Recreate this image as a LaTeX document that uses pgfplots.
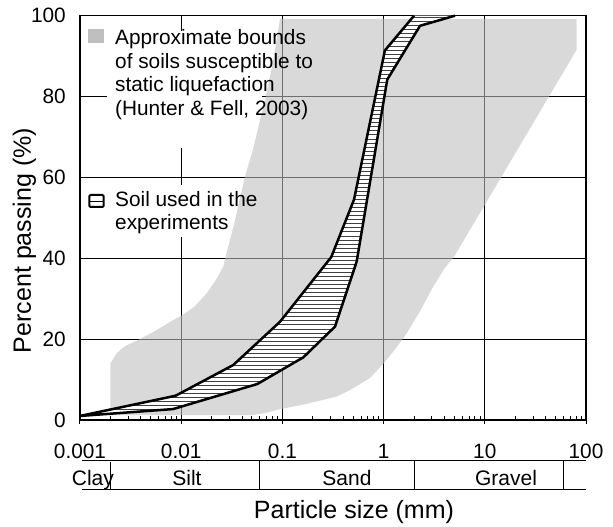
\documentclass[border=0pt]{standalone}
\usepackage{pgfplots}
\pgfplotsset{compat=1.18}
\usepackage{fontspec}
\setmainfont{Liberation Sans}

\definecolor{bandgray}{RGB}{190,190,190}
\definecolor{keygray}{RGB}{191,191,191}

\newcommand{\tickfont}{\fontsize{20.8}{24}\selectfont}
\newcommand{\labfont}{\fontsize{25}{29}\selectfont}

\begin{document}
\begin{tikzpicture}
\begin{axis}[
  name=ax,
  scale only axis,
  width=506pt, height=404.3pt,
  xmode=log,
  xmin=0.001, xmax=100, ymin=0, ymax=100,
  xtick={0.001,0.01,0.1,1,10,100},
  xticklabels={0.001,0.01,0.1,1,10,100},
  ytick={0,20,40,60,80,100},
  grid=major,
  major grid style={black, line width=0.9pt},
  axis line style={line width=1.5pt},
  tick pos=left,
  tick align=center,
  major tick length=8pt,
  minor tick length=4pt,
  every tick/.style={black, line width=1pt},
  minor x tick style={yshift=2pt},
  ytick style={draw=none},
  /pgf/number format/assume math mode=true,
  tick label style={font=\tickfont},
  xticklabel style={anchor=base, inner sep=0pt, yshift=-34pt},
  yticklabel style={anchor=east, inner sep=0pt, xshift=-10pt},
  xlabel={Particle size (mm)},
  ylabel={Percent passing (\%)},
  xlabel style={font=\labfont, at={(axis description cs:0.5415,0)}, anchor=base, yshift=-98pt},
  ylabel style={font=\labfont, at={(axis description cs:-0.110,0.444)}, anchor=center},
  clip=false,
]

% white backing behind the key text
\fill[white] (rel axis cs:0.0534,0.6728) rectangle (rel axis cs:0.3597,0.9622);
\fill[white] (rel axis cs:0.0099,0.4526) rectangle (rel axis cs:0.3360,0.5813);

% bounds of soils susceptible to static liquefaction (Hunter & Fell, 2003)
\addplot[draw=none, fill=bandgray, fill opacity=0.58] coordinates {
  (0.002,1.2) (0.002,14) (0.0023,16.5) (0.0028,18.3) (0.0039,20)
  (0.0055,22) (0.0078,24.3) (0.01,25.8) (0.0135,28) (0.018,31.4)
  (0.0225,35) (0.0261,38) (0.0285,42) (0.033,48) (0.0427,60.2)
  (0.0513,67) (0.0673,79.2) (0.08,88) (0.0946,99.2)
  (81,99.2) (81,91.6) (5.0,40.5)
  (4.0,37.5) (3.09,33) (2.3,27) (1.69,21.4) (1.3,17.5) (1.0,14)
  (0.735,10.4) (0.466,7.4) (0.344,5.8) (0.235,4.8) (0.16,3.8)
  (0.12,3.2) (0.088,2.5) (0.07,1.8) (0.05,1.2)
};

% grading envelope of the soil used in the experiments
\addplot[draw=none, fill=white] coordinates {
  (0.001,1.0) (0.0088,6.0) (0.0327,13.6) (0.0947,24.3) (0.304,40.3)
  (0.51,54.5) (1.03,91.4) (2.0,100)
  (5.08,100) (2.29,97.5) (1.087,84.2) (0.542,39.2) (0.331,23.1)
  (0.161,15.5) (0.0565,8.9) (0.0083,2.7) (0.001,1.0)
};
% horizontal hatching inside the envelope
\begin{scope}
  \clip (0.001,1.0) -- (0.0088,6.0) -- (0.0327,13.6) -- (0.0947,24.3) -- (0.304,40.3)
    -- (0.51,54.5) -- (1.03,91.4) -- (2.0,100)
    -- (5.08,100) -- (2.29,97.5) -- (1.087,84.2) -- (0.542,39.2) -- (0.331,23.1)
    -- (0.161,15.5) -- (0.0565,8.9) -- (0.0083,2.7) -- cycle;
  \pgfplotsinvokeforeach{0.5,1.5,...,99.5}{
    \draw[black!75, line width=1pt] (0.001,#1) -- (100,#1);
  }
\end{scope}
\addplot[black, line width=2.5pt, line join=round] coordinates {
  (0.001,1.0) (0.0088,6.0) (0.0327,13.6) (0.0947,24.3) (0.304,40.3)
  (0.51,54.5) (1.03,91.4) (2.0,100)
};
\addplot[black, line width=2.5pt, line join=round] coordinates {
  (0.001,1.0) (0.0083,2.7) (0.0565,8.9) (0.161,15.5) (0.331,23.1)
  (0.542,39.2) (1.087,84.2) (2.29,97.5) (5.08,100)
};

% soil classification strip
\draw[line width=0.9pt] ([yshift=-40.7pt]axis cs:0.001047,0) -- ([yshift=-40.7pt]axis cs:100,0);
\draw[line width=0.9pt] ([yshift=-69pt]axis cs:0.001047,0) -- ([yshift=-69pt]axis cs:100,0);
\draw[line width=0.9pt] ([yshift=-41.7pt]axis cs:0.002,0) -- ([yshift=-70pt]axis cs:0.002,0);
\draw[line width=0.9pt] ([yshift=-40.7pt]axis cs:0.06,0) -- ([yshift=-69pt]axis cs:0.06,0);
\draw[line width=0.9pt] ([yshift=-40.7pt]axis cs:2,0) -- ([yshift=-69pt]axis cs:2,0);
\draw[line width=0.9pt] ([yshift=-40.7pt]axis cs:60,0) -- ([yshift=-69pt]axis cs:60,0);
\node[font=\fontsize{21}{24}\selectfont, anchor=base, inner sep=0pt] at ([yshift=-65pt]axis cs:0.00134,0) {Clay};
\node[font=\fontsize{21}{24}\selectfont, anchor=base, inner sep=0pt] at ([yshift=-65pt]axis cs:0.0114,0) {Silt};
\node[font=\fontsize{21}{24}\selectfont, anchor=base, inner sep=0pt] at ([yshift=-65pt]axis cs:0.435,0) {Sand};
\node[font=\fontsize{21}{24}\selectfont, anchor=base, inner sep=0pt] at ([yshift=-65pt]axis cs:16.2,0) {Gravel};
\end{axis}

% key
\fill[keygray] ([shift={(8.3pt,377.3pt)}]ax.south west) rectangle ([shift={(24pt,391pt)}]ax.south west);
\begin{scope}[every node/.style={font=\tickfont, anchor=base west, inner sep=0pt}]
  \node at ([shift={(35pt,375pt)}]ax.south west) {Approximate bounds};
  \node at ([shift={(35pt,351.5pt)}]ax.south west) {of soils susceptible to};
  \node at ([shift={(35pt,328pt)}]ax.south west) {static liquefaction};
  \node at ([shift={(35pt,304.5pt)}]ax.south west) {(Hunter \& Fell, 2003)};
  \node at ([shift={(35pt,213.5pt)}]ax.south west) {Soil used in the};
  \node at ([shift={(35pt,190pt)}]ax.south west) {experiments};
\end{scope}
\draw[black, line width=0.9pt] ([shift={(9.5pt,219pt)}]ax.south west) -- ([shift={(23.5pt,219pt)}]ax.south west);
\draw[black, line width=2pt, rounded corners=1pt] ([shift={(9.5pt,213pt)}]ax.south west) rectangle ([shift={(23.5pt,225pt)}]ax.south west);

\pgfresetboundingbox
\path ([shift={(-80pt,-107pt)}]ax.south west) rectangle ([shift={(27pt,15.7pt)}]ax.north east);
\end{tikzpicture}
\end{document}
